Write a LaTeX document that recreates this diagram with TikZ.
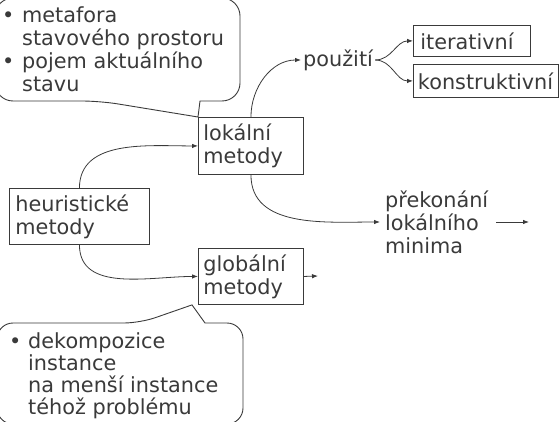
\documentclass[tikz,border=0pt]{standalone}
\usepackage{fontspec}
\setmainfont{DejaVu Sans}
\usetikzlibrary{arrows.meta,calc}
\definecolor{ink}{HTML}{3A3A3A}
\begin{document}
\begin{tikzpicture}[x=1pt,y=-1pt,
  every node/.style={text=ink, font=\fontsize{20.8}{23}\selectfont},
  box/.style={draw=ink, line width=0.9pt, align=left, inner ysep=0pt, anchor=north west},
  plain/.style={align=left, inner sep=0pt},
  conn/.style={draw=ink, line width=0.8pt, -{Latex[length=6pt,width=4.5pt]}},
  bubble/.style={draw=ink, line width=0.9pt}]
\useasboundingbox (0,0) rectangle (559,422);
\clip (0,0) rectangle (559,422);
% boxes
\node[box, inner xsep=6pt, text width=128pt, minimum height=56pt] (heur) at (9,188) {heuristické\\metody};
\node[box, inner xsep=5pt, text width=95pt, minimum height=57pt] (lok) at (198,117) {lokální\\metody};
\node[box, inner xsep=5pt, text width=95pt, minimum height=56pt] (glob) at (198,248) {globální\\metody};
\node[box, inner xsep=7pt, text width=103pt, minimum height=31pt] (iter) at (413,25) {iterativní};
\node[box, inner xsep=4.5pt, text width=136pt, minimum height=33pt] (kons) at (413,64) {konstruktivní};
\node[plain, anchor=west] (pouz) at (303,60) {použití};
\node[plain, anchor=west] (prek) at (385,222) {překonání\\lokálního\\minima};
\coordinate (globend) at (318,276);
\coordinate (prekstart) at (496,222);
\coordinate (prekend) at (529,222);
% connectors
\draw[conn] (heur.north) to[out=90,in=180] (lok.west);
\draw[conn] (heur.south) to[out=-90,in=180] (glob.west);
\draw[conn] (glob.east) -- (globend);
\draw[conn] (lok.north) to[out=90,in=180] ([xshift=-2pt]pouz.west);
\draw[conn] (lok.south) to[out=-90,in=180] ([xshift=-5pt]prek.west);
\draw[conn] (prekstart) -- (prekend);
\draw[conn] ([xshift=2pt]pouz.east) to[out=0,in=180] (iter.west);
\draw[conn] ([xshift=2pt]pouz.east) to[out=0,in=180] (kons.west);
% top callout
\draw[bubble] (200,101) [rounded corners=18pt] -- (240,101) -- (240,-2) -- (-5,-2) -- (-5,101) -- (100,101) [sharp corners] -- (lok.north west) -- cycle;
\node[plain, anchor=north west] (topnote) at (2,6) {\makebox[20pt][l]{•}metafora\\\hspace*{20pt}stavového prostoru\\\makebox[20pt][l]{•}pojem aktuálního\\\hspace*{20pt}stavu};
% bottom callout
\draw[bubble] (205,323) [rounded corners=16pt] -- (243,323) -- (243,424) -- (-3,424) -- (-3,323) -- (140,323) [sharp corners] -- ($(glob.south west)+(-6,0)$) -- cycle;
\node[plain, anchor=north west, font=\fontsize{20.8}{22}\selectfont] (botnote) at (9,332) {\makebox[19pt][l]{•}dekompozice\\\hspace*{19pt}instance\\\hspace*{19pt}na menší instance\\\hspace*{19pt}téhož problému};
\end{tikzpicture}
\end{document}
